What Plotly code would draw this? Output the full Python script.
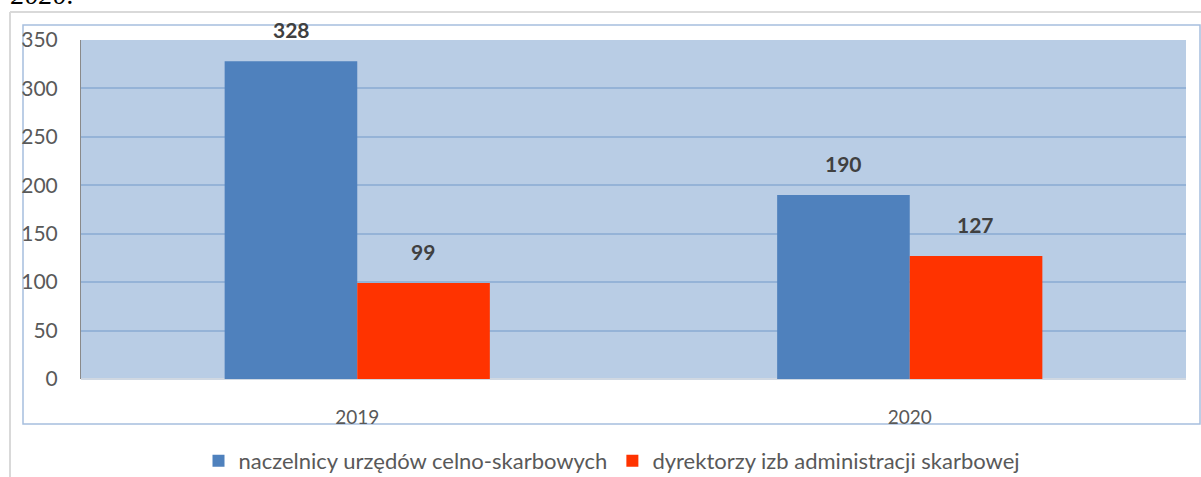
import plotly.graph_objects as go

# Liczba decyzji w latach 2019-2020
years = ["2019", "2020"]
series_names = ["naczelnicy urzędów celno-skarbowych", "dyrektorzy izb administracji skarbowej"]
naczelnicy = [328, 190]
dyrektorzy = [99, 127]
series_values = [naczelnicy, dyrektorzy]
series_colors = ["#4f81bd", "#ff3300"]
y_ticks = [0, 50, 100, 150, 200, 250, 300, 350]

W, H = 1201, 477
M_L, M_R, M_T, M_B = 81, 15, 40, 98
PW, PH = W - M_L - M_R, H - M_T - M_B

def px_x(x):
    return (x - M_L) / PW

def px_y(y):
    return (H - M_B - y) / PH

FONT = "Lato, 'Open Sans', sans-serif"

fig = go.Figure()
for name, vals, col in zip(series_names, series_values, series_colors):
    fig.add_trace(go.Bar(
        x=years, y=vals, name=name,
        marker=dict(color=col, line=dict(width=0)),
    ))

# value labels above each bar (category index used as x position)
offsets = [-66, 66]
for vals, dx in zip(series_values, offsets):
    for i, v in enumerate(vals):
        fig.add_annotation(
            x=i, y=v, xref="x", yref="y", text=f"<b>{v}</b>",
            showarrow=False, xshift=dx, yshift=17, yanchor="bottom",
            font=dict(family=FONT, size=21, color="#404040"),
        )

# caption fragment at the top of the page
fig.add_annotation(
    xref="paper", yref="paper", x=px_x(9), y=px_y(12),
    xanchor="left", yanchor="bottom", text="<i>2020.</i>", showarrow=False,
    font=dict(family="'Liberation Serif', serif", size=28, color="#000000"),
)

shapes = [
    # outer frame (grey)
    dict(type="line", xref="paper", yref="paper", x0=px_x(10), x1=px_x(1205), y0=px_y(12), y1=px_y(12),
         line=dict(color="#d9d9d9", width=2)),
    dict(type="line", xref="paper", yref="paper", x0=px_x(10), x1=px_x(10), y0=px_y(12), y1=px_y(480),
         line=dict(color="#d9d9d9", width=2)),
    # chart frame (blue)
    dict(type="rect", xref="paper", yref="paper", x0=px_x(23), x1=px_x(1200), y0=px_y(25), y1=px_y(424),
         line=dict(color="#a7bfde", width=1.5), fillcolor="rgba(0,0,0,0)", layer="below"),
]

fig.update_layout(
    width=W, height=H,
    margin=dict(l=M_L, r=M_R, t=M_T, b=M_B, autoexpand=False),
    paper_bgcolor="#ffffff",
    plot_bgcolor="#b9cde5",
    barmode="group",
    bargap=0.52,
    bargroupgap=0,
    font=dict(family=FONT, color="#595959"),
    shapes=shapes,
    showlegend=True,
    legend=dict(
        orientation="h", x=px_x(612), xanchor="center", y=px_y(461), yanchor="middle",
        font=dict(family=FONT, size=22, color="#595959"),
        traceorder="normal",
    ),
    xaxis=dict(
        type="category", categoryorder="array", categoryarray=years,
        range=[-0.5, len(years) - 0.5], autorange=False, automargin=False,
        showgrid=False, zeroline=False, showline=False,
        tickfont=dict(family=FONT, size=19, color="#595959"),
        ticks="outside", ticklen=21, tickcolor="rgba(0,0,0,0)",
    ),
    yaxis=dict(
        range=[0, 350], autorange=False, automargin=False, tickvals=y_ticks, showgrid=True,
        gridcolor="#95b3d7", gridwidth=2,
        zeroline=True, zerolinecolor="#d0d8e2", zerolinewidth=2,
        showline=True, linecolor="#8a8a8a", linewidth=1,
        tickfont=dict(family=FONT, size=21, color="#595959"),
        ticks="outside", ticklen=18, tickcolor="rgba(0,0,0,0)",
    ),
)

fig.write_html("out.html")
